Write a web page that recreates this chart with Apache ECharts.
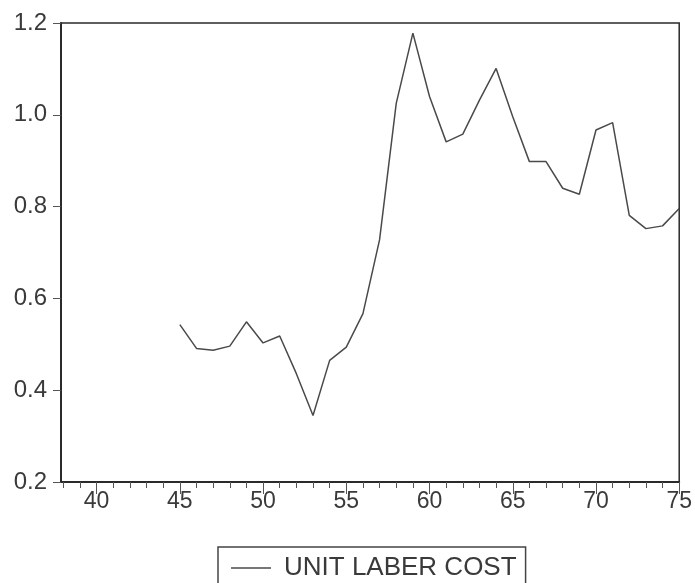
<!DOCTYPE html>
<html>
<head>
<meta charset="utf-8">
<script src="https://cdn.jsdelivr.net/npm/echarts@6/dist/echarts.min.js"></script>
<style>
  html, body { margin: 0; padding: 0; background: #fff; }
  #chart { width: 695px; height: 583px; }
</style>
</head>
<body>
<div id="chart"></div>
<script>
// years on the x axis (19xx)
var years = [45, 46, 47, 48, 49, 50, 51, 52, 53, 54, 55, 56, 57, 58, 59, 60,
             61, 62, 63, 64, 65, 66, 67, 68, 69, 70, 71, 72, 73, 74, 75];
var unitLaborCost = [0.543, 0.491, 0.487, 0.496, 0.549, 0.503, 0.518, 0.436, 0.345, 0.465,
                     0.494, 0.567, 0.728, 1.025, 1.178, 1.04, 0.941, 0.958, 1.032, 1.101,
                     0.996, 0.898, 0.898, 0.840, 0.827, 0.967, 0.983, 0.781, 0.752, 0.758, 0.796];
var minorTicks = [38, 39, 40, 41, 42, 43, 44, 45, 46, 47, 48, 49, 50, 51, 52, 53, 54, 55, 56,
                  57, 58, 59, 60, 61, 62, 63, 64, 65, 66, 67, 68, 69, 70, 71, 72, 73, 74, 75];
var xLabels = [40, 45, 50, 55, 60, 65, 70, 75];

var chart = echarts.init(document.getElementById('chart'));
var font = '"Liberation Sans", Arial, sans-serif';
var ink = '#2a2a2a';

chart.setOption({
    animation: false,
    grid: {
        left: 61, right: 14, top: 23, bottom: 101,
        show: true,
        borderColor: ink,
        borderWidth: 1.5,
        backgroundColor: 'transparent'
    },
    legend: {
        left: 218,
        top: 547,
        padding: [8, 9, 40, 13],
        borderColor: '#444',
        borderWidth: 1.5,
        icon: 'path://M0,0 H40 V1.5 H0 Z',
        itemWidth: 40,
        itemHeight: 1.5,
        textStyle: {
            fontFamily: font,
            fontSize: 26,
            color: '#3a3a3a',
            padding: [0, 0, 0, 8]
        },
        data: ['UNIT LABER COST']
    },
    xAxis: [
        {
            type: 'value',
            position: 'bottom',
            min: 37.86,
            max: 75,
            splitLine: { show: false },
            axisLine: { lineStyle: { color: ink, width: 2 } },
            axisTick: {
                show: true,
                customValues: minorTicks,
                length: 6,
                lineStyle: { color: '#555', width: 1 }
            },
            axisLabel: {
                customValues: xLabels,
                margin: 8,
                fontFamily: font,
                fontSize: 23,
                color: '#3a3a3a'
            }
        },
        {
            type: 'value',
            position: 'bottom',
            offset: 0,
            min: 37.86,
            max: 75,
            splitLine: { show: false },
            axisLine: { show: false },
            axisTick: {
                show: true,
                customValues: xLabels,
                length: 12,
                lineStyle: { color: '#555', width: 1 }
            },
            axisLabel: { show: false }
        }
    ],
    yAxis: {
        type: 'value',
        min: 0.2,
        max: 1.2,
        interval: 0.2,
        splitLine: { show: false },
        axisLine: { show: true, lineStyle: { color: ink, width: 2 } },
        axisTick: { show: true, length: 8, lineStyle: { color: '#555', width: 1 } },
        axisLabel: {
            margin: 14,
            fontFamily: font,
            fontSize: 24,
            color: '#3a3a3a',
            formatter: function (v) { return v.toFixed(1); }
        }
    },
    series: [
        {
            name: 'UNIT LABER COST',
            type: 'line',
            symbol: 'none',
            lineStyle: { color: '#4a4a4a', width: 1.5 },
            itemStyle: { color: '#4a4a4a' },
            data: years.map(function (y, i) { return [y, unitLaborCost[i]]; })
        }
    ]
});
</script>
</body>
</html>
